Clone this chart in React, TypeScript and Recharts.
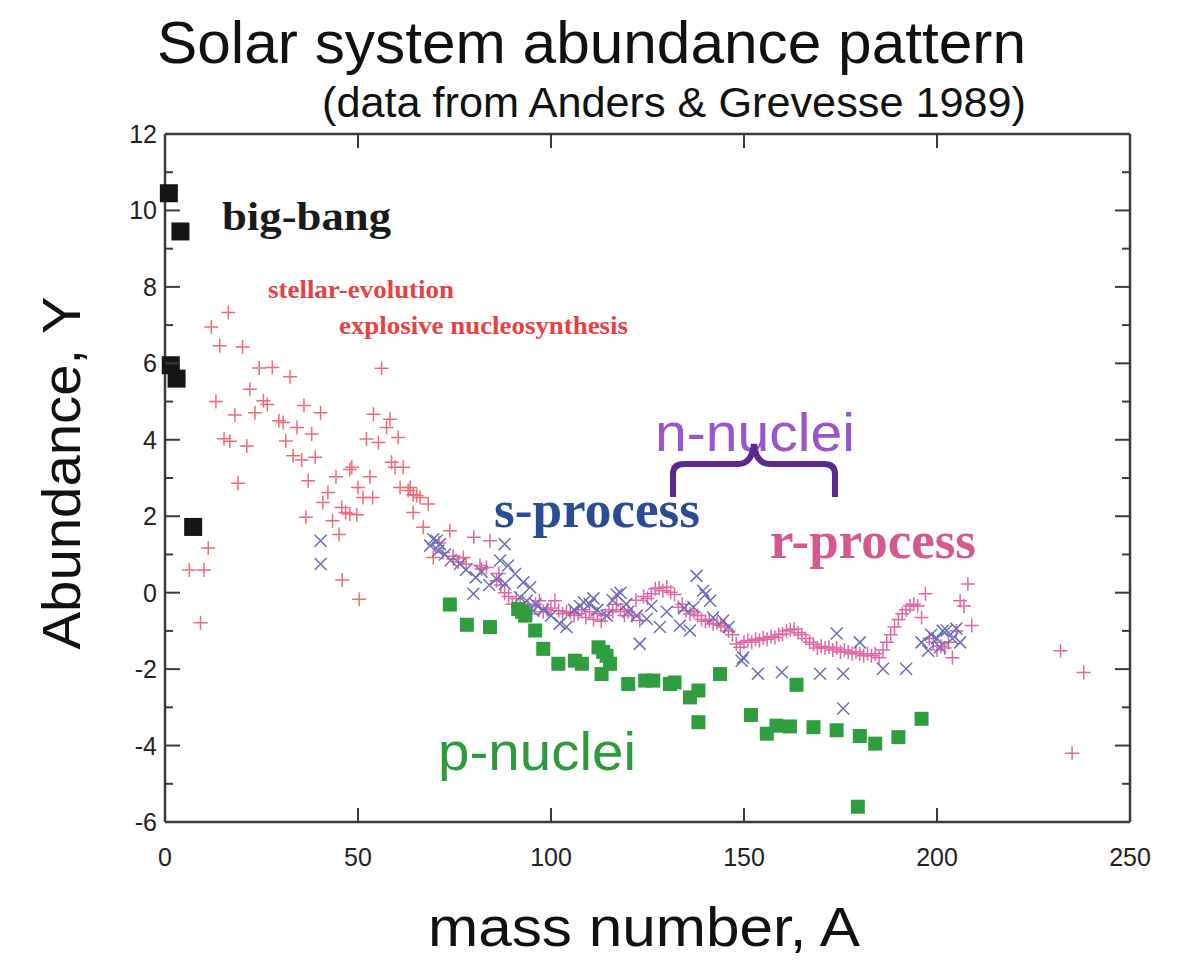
import React from "react";
import { ScatterChart, Scatter, XAxis, YAxis } from "recharts";

// mass number A / abundance Y
const bigBangA = [1, 4, 1.5, 3, 7.3];
const bigBangY = [10.45, 9.45, 5.95, 5.6, 1.72];

const stellarA = [
  6.3, 10.1, 9.2, 11.2, 12, 13.2, 14.2, 15.3, 16.4, 16.8, 18.1, 18.9, 20.1, 21.2, 22, 23.3, 24.4, 25.5,
  26.5, 27.8, 29.5, 30.6, 31.3, 32.4, 33.2, 34.2, 35.4, 36, 36.5, 37.1, 38, 38.9, 40.3, 40.9, 42.2, 43.4,
  44.3, 45.1, 45.8, 45.9, 46.8, 47.9, 47.9, 48.4, 49.7, 50, 50.3, 51.3, 52.2, 53.1, 53.8, 54, 55.3, 56.1,
  57.4, 58.3, 58.7, 59.6, 60.4, 60.9, 61.7, 63, 63.5, 64.3, 64.3, 65.2, 66.1, 66.9, 68.2, 69.5, 73.8, 74.7,
];
const stellarY = [
  0.59, 0.59, -0.79, 1.17, 6.95, 5.0, 6.46, 4.03, 7.33, 3.96, 4.65, 2.86, 6.43, 3.84, 5.32, 4.71, 5.88, 5.02,
  4.92, 5.89, 4.5, 4.45, 3.97, 5.65, 3.58, 4.32, 3.47, 4.9, 1.97, 2.93, 4.15, 3.54, 4.71, 2.36, 2.62, 1.88,
  3.03, 1.52, 2.23, 0.33, 2.1, 3.22, 2.06, 3.28, 2.04, 2.75, -0.17, 2.49, 4.02, 3.03, 2.49, 4.67, 3.93, 5.87,
  4.32, 4.54, 3.41, 3.28, 4.06, 2.75, 3.28, 2.67, 2.75, 2.56, 2.1, 2.54, 2.49, 1.71, 2.32, 0.92, 1.62, 0.88,
];

const rA = [
  71, 72, 74.7, 76, 77.3, 78, 80, 81.6, 82, 83.3, 84.2, 85.9, 86.5, 87, 88, 89, 90, 91, 92, 93, 94, 95, 96, 97,
  98, 99, 100, 101, 102, 103, 104, 105, 106, 107, 108, 109, 110, 111, 112, 113, 114, 115, 116, 117, 118, 119,
  120, 121, 122, 123, 124, 125, 126, 127, 128, 129, 130, 131, 132, 133, 134, 135, 136, 137, 138, 139, 140, 141,
  142, 143, 144, 145, 146, 147, 148, 149, 150, 151, 152, 153, 154, 155, 156, 157, 158, 159, 160, 161, 162, 163,
  164, 165, 166, 167, 168, 169, 170, 171, 172, 173, 174, 175, 176, 177, 178, 179, 180, 181, 182, 183, 184, 185,
  186, 187, 188, 189, 190, 191, 192, 193, 194, 195, 196, 197, 198, 199, 200, 201, 202, 203, 204, 205, 206, 207,
  208, 209, 232, 235, 238,
];
const rY = [
  1.3, 1.05, 0.95, 0.8, 0.92, 0.75, 1.45, 0.71, 0.62, 0.66, 1.36, 0.31, 0.5, 0.2, 0.0, -0.1, -0.3, -0.15, -0.3,
  -0.4, -0.35, -0.56, -0.3, -0.21, -0.5, -0.45, -0.4, -0.21, -0.47, -0.55, -0.5, -0.51, -0.6, -0.55, -0.45,
  -0.65, -0.5, -0.7, -0.55, -0.75, -0.6, -0.45, -0.5, -0.3, -0.45, -0.6, -0.5, -0.6, -0.2, -0.73, -0.1, -0.15,
  -0.03, 0.1, 0.12, 0.05, 0.15, 0.01, -0.05, -0.38, -0.3, -0.47, -0.56, -0.5, -0.6, -0.7, -0.75, -0.72, -0.82,
  -0.8, -0.85, -0.9, -1.0, -1.1, -1.34, -1.43, -1.3, -1.25, -1.3, -1.22, -1.25, -1.18, -1.22, -1.15, -1.17,
  -1.1, -1.08, -1.0, -0.97, -0.95, -1.05, -1.1, -1.2, -1.3, -1.35, -1.45, -1.4, -1.45, -1.42, -1.5, -1.45,
  -1.55, -1.5, -1.55, -1.6, -1.55, -1.6, -1.65, -1.6, -1.65, -1.6, -1.7, -1.5, -1.3, -1.1, -0.9, -0.7, -0.55,
  -0.45, -0.35, -0.3, -0.35, -0.65, -0.03, -1.2, -1.3, -1.5, -1.4, -1.45, -1.3, -1.7, -1.0, -0.21, -0.35, 0.23,
  -0.86, -1.52, -4.2, -2.09,
];

const sA = [
  40.3, 40.3, 68.7, 69.5, 70.4, 70.8, 71.2, 72.5, 74, 76.4, 78, 79.9, 80.5, 82, 84, 85.9, 86.8, 88, 88.1, 88.9,
  90.7, 92, 92.8, 93.7, 94.6, 95.4, 96, 98, 100, 102.3, 104, 106, 107.5, 108.5, 110, 111, 112, 114.4, 116, 117,
  118, 119.5, 120, 122.2, 123, 124.8, 126, 128.2, 130, 133.4, 134.5, 136, 136.9, 137.7, 139.4, 140, 141.2, 142,
  144.6, 146, 149.4, 149.8, 153.6, 159.8, 169.7, 174, 175.7, 175.7, 180, 186, 192, 196, 197.7, 198.5, 200,
  200.8, 201.5, 202.5, 204, 205, 206,
];
const sY = [
  1.36, 0.75, 1.23, 1.4, 1.36, 1.1, 1.27, 1.0, 0.85, 0.75, 0.6, -0.03, 0.4, 0.55, 0.2, 0.36, 0.84, 1.27, 0.23,
  0.71, 0.49, -0.12, 0.27, -0.21, 0.14, -0.47, -0.3, -0.45, -0.6, -0.81, -0.9, -0.45, -0.35, -0.25, -0.3,
  -0.15, -0.45, -0.6, -0.2, -0.05, 0.0, -0.3, -0.5, -0.6, -1.34, -0.69, -0.35, -0.9, -0.5, -0.86, -0.4, -0.99,
  -0.38, 0.44, 0.05, -0.05, -0.21, -0.65, -0.73, -0.9, -1.78, -1.7, -2.12, -2.08, -2.12, -1.07, -2.12, -3.03,
  -1.3, -1.99, -1.99, -1.3, -1.52, -1.1, -1.2, -1.43, -1.0, -0.99, -1.2, -0.94, -1.3,
];

const pA = [
  73.8, 78.2, 84.2, 91.5, 92.5, 93.3, 95.9, 98, 101.9, 106.2, 108, 112.3, 113.5, 114.4, 115.3, 113.1, 120,
  124.4, 126.5, 130.8, 132, 136, 138.2, 138.2, 143.8, 151.8, 155.9, 158.4, 161.9, 163.6, 168, 174, 180, 179.5,
  184, 190, 196,
];
const pY = [
  -0.31, -0.84, -0.9, -0.43, -0.5, -0.6, -0.99, -1.47, -1.86, -1.78, -1.86, -1.43, -1.55, -1.65, -1.86, -2.13,
  -2.39, -2.3, -2.3, -2.39, -2.35, -2.74, -2.56, -3.39, -2.13, -3.2, -3.69, -3.48, -3.5, -2.41, -3.52, -3.6,
  -3.75, -5.6, -3.95, -3.78, -3.3,
];

const xTicks = [0, 50, 100, 150, 200, 250];
const yTicks = [-6, -5, -4, -3, -2, -1, 0, 1, 2, 3, 4, 5, 6, 7, 8, 9, 10, 11, 12];

const zip = (a: number[], b: number[]) => a.map((x, i) => ({ x, y: b[i] }));

const SANS = "'Liberation Sans Narrow', 'Liberation Sans', Arial, Helvetica, sans-serif";
const SERIF = "'Liberation Serif', 'Times New Roman', serif";
const AXIS = "#3a3a3a";

const plus = (color: string) => (p: any) => (
  <path d={`M${p.cx - 7},${p.cy}h14M${p.cx},${p.cy - 7}v14`} stroke={color} strokeWidth={1.5} fill="none" />
);
const cross = (color: string) => (p: any) => (
  <path
    d={`M${p.cx - 6},${p.cy - 6}l12,12M${p.cx - 6},${p.cy + 6}l12,-12`}
    stroke={color}
    strokeWidth={1.5}
    fill="none"
  />
);
const square = (color: string, s: number) => (p: any) => (
  <rect x={p.cx - s / 2} y={p.cy - s / 2} width={s} height={s} fill={color} />
);

// ticks point inward; axis line sits tickMargin (8px) from the label anchor
const BottomTick = (p: any) => {
  const ay = p.y - 8;
  return (
    <g>
      <line x1={p.x} y1={ay} x2={p.x} y2={ay - 14} stroke={AXIS} strokeWidth={2} />
      <text x={p.x} y={ay + 44} textAnchor="middle" fontFamily={SANS} fontSize={25} fill="#222">
        {p.payload.value}
      </text>
    </g>
  );
};
const TopTick = (p: any) => {
  const ay = p.y + 8;
  return <line x1={p.x} y1={ay} x2={p.x} y2={ay + 14} stroke={AXIS} strokeWidth={2} />;
};
const LeftTick = (p: any) => {
  const v = p.payload.value;
  const ax = p.x + 8;
  const major = v % 2 === 0;
  return (
    <g>
      <line x1={ax} y1={p.y} x2={ax + (major ? 15 : 8)} y2={p.y} stroke={AXIS} strokeWidth={2} />
      {major && (
        <text x={ax - 8} y={p.y} dy="0.36em" textAnchor="end" fontFamily={SANS} fontSize={25} fill="#222">
          {v}
        </text>
      )}
    </g>
  );
};
const RightTick = (p: any) => {
  const v = p.payload.value;
  const ax = p.x - 8;
  const major = v % 2 === 0;
  return <line x1={ax} y1={p.y} x2={ax - (major ? 15 : 8)} y2={p.y} stroke={AXIS} strokeWidth={2} />;
};

export default function App() {
  return (
    <div style={{ position: "absolute", left: 0, top: 0, width: 1189, height: 962, background: "#fff" }}>
      <ScatterChart width={1189} height={962} margin={{ top: 114, right: 39, bottom: 100, left: 105 }}>
        <XAxis
          type="number"
          dataKey="x"
          domain={[0, 250]}
          ticks={xTicks}
          interval={0}
          height={40}
          tickSize={0}
          tickMargin={8}
          tickLine={false}
          tick={BottomTick}
          axisLine={{ stroke: AXIS, strokeWidth: 2.5 }}
        />
        <XAxis
          xAxisId="top"
          orientation="top"
          type="number"
          dataKey="x"
          domain={[0, 250]}
          allowDataOverflow
          ticks={xTicks}
          interval={0}
          height={20}
          tickSize={0}
          tickMargin={8}
          tickLine={false}
          tick={TopTick}
          axisLine={{ stroke: AXIS, strokeWidth: 2.5 }}
        />
        <YAxis
          type="number"
          dataKey="y"
          domain={[-6, 12]}
          ticks={yTicks}
          interval={0}
          width={60}
          tickSize={0}
          tickMargin={8}
          tickLine={false}
          tick={LeftTick}
          axisLine={{ stroke: AXIS, strokeWidth: 2.5 }}
        />
        <YAxis
          yAxisId="right"
          orientation="right"
          type="number"
          dataKey="y"
          domain={[-6, 12]}
          allowDataOverflow
          ticks={yTicks}
          interval={0}
          width={20}
          tickSize={0}
          tickMargin={8}
          tickLine={false}
          tick={RightTick}
          axisLine={{ stroke: AXIS, strokeWidth: 2.5 }}
        />
        <Scatter xAxisId="top" yAxisId="right" data={[]} isAnimationActive={false} />
        <Scatter data={zip(stellarA, stellarY)} shape={plus("#f06a76")} isAnimationActive={false} />
        <Scatter data={zip(rA, rY)} shape={plus("#e266a4")} isAnimationActive={false} />
        <Scatter data={zip(sA, sY)} shape={cross("#6a6fba")} isAnimationActive={false} />
        <Scatter data={zip(pA, pY)} shape={square("#2f9e3f", 14)} isAnimationActive={false} />
        <Scatter data={zip(bigBangA, bigBangY)} shape={square("#151515", 18)} isAnimationActive={false} />
      </ScatterChart>
      <svg
        width={1189}
        height={962}
        style={{ position: "absolute", left: 0, top: 0, pointerEvents: "none" }}
      >
        <text x={157} y={63} fontFamily={SANS} fontSize={60} textLength={869} lengthAdjust="spacingAndGlyphs" fill="#111">
          Solar system abundance pattern
        </text>
        <text x={322} y={117} fontFamily={SANS} fontSize={42} textLength={704} lengthAdjust="spacingAndGlyphs" fill="#111">
          (data from Anders &amp; Grevesse 1989)
        </text>
        <text
          x={0}
          y={0}
          transform="translate(80,473) rotate(-90)"
          textAnchor="middle"
          fontFamily={SANS}
          fontSize={54}
          textLength={353}
          lengthAdjust="spacingAndGlyphs"
          fill="#111"
        >
          Abundance, Y
        </text>
        <text x={428} y={946} fontFamily={SANS} fontSize={56} textLength={432} lengthAdjust="spacingAndGlyphs" fill="#111">
          mass number, A
        </text>
        <text x={222} y={230} fontFamily={SERIF} fontWeight="bold" fontSize={40} textLength={169} lengthAdjust="spacingAndGlyphs" fill="#1a1a1a">
          big-bang
        </text>
        <text x={268} y={298} fontFamily={SERIF} fontWeight="bold" fontSize={25} textLength={186} lengthAdjust="spacingAndGlyphs" fill="#e8413f">
          stellar-evolution
        </text>
        <text x={339} y={334} fontFamily={SERIF} fontWeight="bold" fontSize={25} textLength={289} lengthAdjust="spacingAndGlyphs" fill="#e8413f">
          explosive nucleosynthesis
        </text>
        <text x={655} y={451} fontFamily={SANS} fontSize={54} textLength={200} lengthAdjust="spacingAndGlyphs" fill="#9a55c8">
          n-nuclei
        </text>
        <path
          d="M673,497 L673,474 Q673,464 684,464 L738,464 Q752,464 754,444 Q756,464 770,464 L824,464 Q835,464 835,474 L835,497"
          stroke="#5b2a8c"
          strokeWidth={6}
          fill="none"
        />
        <text x={494} y={527} fontFamily={SERIF} fontWeight="bold" fontSize={52} textLength={206} lengthAdjust="spacingAndGlyphs" fill="#2c4b95">
          s-process
        </text>
        <text x={770} y={558} fontFamily={SERIF} fontWeight="bold" fontSize={52} textLength={206} lengthAdjust="spacingAndGlyphs" fill="#d65890">
          r-process
        </text>
        <text x={438} y={770} fontFamily={SANS} fontSize={54} textLength={198} lengthAdjust="spacingAndGlyphs" fill="#2e9a3e">
          p-nuclei
        </text>
      </svg>
    </div>
  );
}
